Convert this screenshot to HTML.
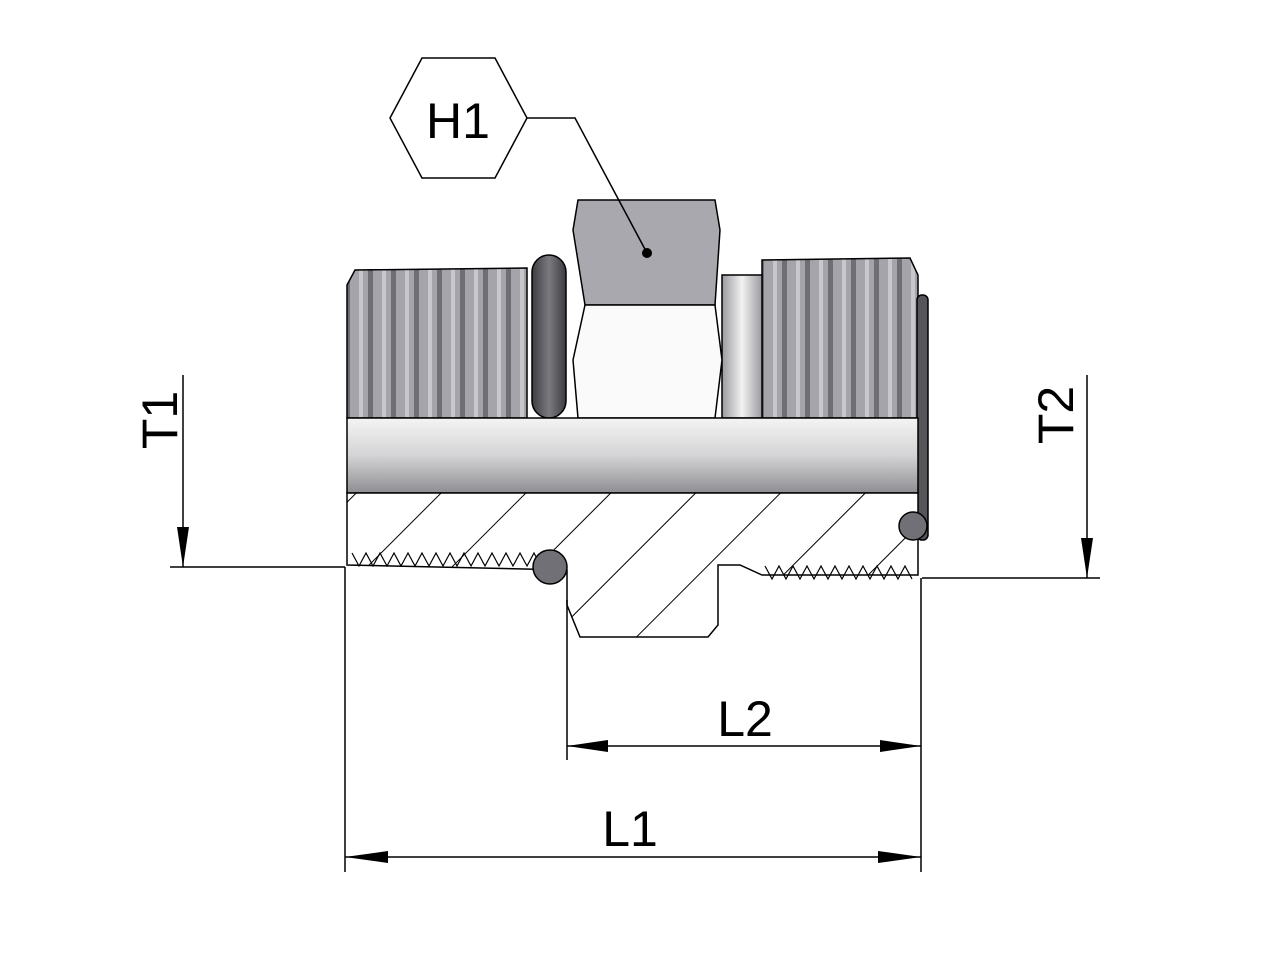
<!DOCTYPE html>
<html><head><style>body{margin:0;background:#fff}svg{display:block}</style></head><body>
<svg width="1275" height="960" viewBox="0 0 1275 960" xmlns="http://www.w3.org/2000/svg" font-family="Liberation Sans, sans-serif">
<defs>
<linearGradient id="bore" x1="0" y1="0" x2="0" y2="1"><stop offset="0" stop-color="#f4f4f4"/><stop offset="0.5" stop-color="#d4d4d6"/><stop offset="1" stop-color="#8e8e92"/></linearGradient>
<linearGradient id="neck" x1="0" y1="0" x2="1" y2="0"><stop offset="0" stop-color="#9a9aa0"/><stop offset="0.5" stop-color="#f2f2f2"/><stop offset="1" stop-color="#9a9aa0"/></linearGradient>
<linearGradient id="ring" x1="0" y1="0" x2="1" y2="0"><stop offset="0" stop-color="#3c3c40"/><stop offset="0.5" stop-color="#7a7a80"/><stop offset="1" stop-color="#3c3c40"/></linearGradient>
<pattern id="thr" width="23" height="10" patternUnits="userSpaceOnUse"><rect width="23" height="10" fill="#a4a4aa"/><rect x="0" width="5" height="10" fill="#6e6e74"/><rect x="14" width="4" height="10" fill="#c8c8cc"/></pattern>
<pattern id="hatch" width="60" height="60" patternUnits="userSpaceOnUse" patternTransform="rotate(-45)"><rect width="60" height="60" fill="#fff"/><line x1="0" y1="0" x2="60" y2="0" stroke="#000" stroke-width="2"/></pattern>
</defs>
<g stroke="#000" stroke-width="1.5">
<polygon points="390,118 422,58 495,58 527,118 495,178 422,178" fill="#fff"/>
<path d="M347,285 L355,270 L527,268 L527,418 L347,418 Z" fill="url(#thr)"/>
<path d="M762,260 L910,258 L918,275 L918,418 L762,418 Z" fill="url(#thr)"/>
<rect x="722" y="275" width="40" height="143" fill="url(#neck)"/>
<path d="M578,200 L715,200 L720,230 L715,305 L585,305 L573,230 Z" fill="#a8a8ae"/>
<path d="M585,305 L715,305 L722,360 L715,418 L578,418 L573,360 Z" fill="#fafafa"/>
<rect x="532" y="255" width="34" height="163" rx="17" fill="url(#ring)"/>
<rect x="917" y="295" width="11" height="245" rx="5" fill="#55555a"/>
<rect x="347" y="418" width="571" height="75" fill="url(#bore)"/>
<path d="M347,493 L918,493 L918,545 L918,575 L762,575 L740,565 L718,565 L718,625 L708,637 L580,637 L567,605 L567,570 L347,565 Z" fill="url(#hatch)"/>
<path d="M352,553 l7,13 7,-13 7,13 7,-13 7,13 7,-13 7,13 7,-13 7,13 7,-13 7,13 7,-13 7,13 7,-13 7,13 7,-13 7,13 7,-13 7,13 7,-13 7,13 7,-13 7,13 7,-13 7,13 7,-13 7,13 M765,566 l7,13 7,-13 7,13 7,-13 7,13 7,-13 7,13 7,-13 7,13 7,-13 7,13 7,-13 7,13 7,-13 7,13 7,-13 7,13 7,-13 7,13 7,-13 7,13" fill="none" stroke-width="1.2"/>
<circle cx="550" cy="567" r="17" fill="#707076"/>
<circle cx="913" cy="526" r="14" fill="#707076"/>
<polyline points="527,118 575,118 647,253" fill="none"/>
</g>
<circle cx="647" cy="253" r="5" fill="#000"/>
<text x="458" y="138" font-size="50" text-anchor="middle">H1</text>
<g stroke="#000" stroke-width="1.5" fill="none">
<line x1="183" y1="375" x2="183" y2="567"/><line x1="170" y1="567" x2="345" y2="567"/>
<line x1="1087" y1="375" x2="1087" y2="578"/><line x1="922" y1="578" x2="1100" y2="578"/>
<line x1="345" y1="567" x2="345" y2="872"/><line x1="921" y1="578" x2="921" y2="872"/>
<line x1="567" y1="600" x2="567" y2="760"/>
<line x1="567" y1="746" x2="921" y2="746"/><line x1="345" y1="857" x2="921" y2="857"/>
</g>
<g fill="#000">
<polygon points="183,567 177,527 189,527"/><polygon points="1087,578 1081,538 1093,538"/>
<polygon points="567,746 608,740 608,752"/><polygon points="921,746 880,740 880,752"/>
<polygon points="345,857 388,851 388,863"/><polygon points="921,857 878,851 878,863"/>
</g>
<text x="745" y="736" font-size="50" text-anchor="middle">L2</text>
<text x="630" y="846" font-size="50" text-anchor="middle">L1</text>
<text transform="translate(177,420) rotate(-90)" font-size="50" text-anchor="middle">T1</text>
<text transform="translate(1073,415) rotate(-90)" font-size="50" text-anchor="middle">T2</text>
</svg>
</body></html>
